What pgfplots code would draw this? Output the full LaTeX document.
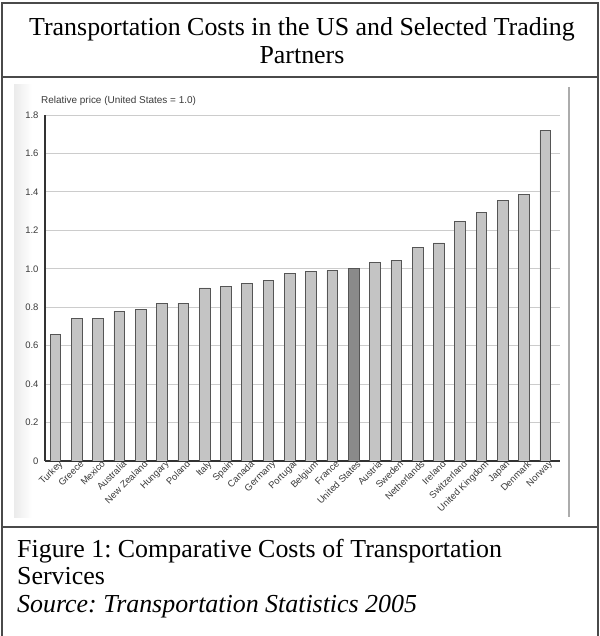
\documentclass[border=0pt]{standalone}
\usepackage{fontspec}
\setmainfont{Liberation Serif}
\newfontfamily\chartfont{Liberation Sans}
\usepackage{pgfplots}
\usepackage{pgfplotstable}
\pgfplotsset{compat=1.18}
\definecolor{barfill}{HTML}{C4C4C4}
\definecolor{usfill}{HTML}{8A8A8A}
\definecolor{baredge}{HTML}{555555}
\definecolor{framec}{HTML}{4A4A4A}
\definecolor{axisc}{HTML}{333333}
\definecolor{labc}{HTML}{3A3A3A}

\pgfplotstableread{
x val
0 0.66
1 0.74
2 0.74
3 0.78
4 0.79
5 0.82
6 0.82
7 0.90
8 0.91
9 0.925
10 0.94
11 0.975
12 0.985
13 0.99
15 1.035
16 1.045
17 1.11
18 1.135
19 1.245
20 1.295
21 1.355
22 1.385
23 1.72
}\others
\pgfplotstableread{
x val
14 1.00
}\usdata

\begin{document}
\frenchspacing
\begin{tikzpicture}[x=1bp,y=1bp]
\useasboundingbox (0,0) rectangle (600,636);
% scan background tint
\fill[left color=gray!16, right color=white] (14,118) rectangle (32,551);
% scan right edge line
\draw[gray!65, line width=1.5bp] (569,549) -- (569,119);
% frame
\draw[framec, line width=1.5bp] (2,0) -- (2,633) -- (598,633) -- (598,0);
\draw[framec, line width=1.5bp] (2,559) -- (598,559);
\draw[framec, line width=1.5bp] (2,109) -- (598,109);
% title
\node[anchor=base, inner sep=0, font=\fontsize{26}{30}\selectfont] at (302,600) {Transportation Costs in the US and Selected Trading};
\node[anchor=base, inner sep=0, font=\fontsize{26}{30}\selectfont] at (302,572) {Partners};
% caption
\node[anchor=base west, inner sep=0, font=\fontsize{26}{30}\selectfont] at (17,78) {Figure 1: Comparative Costs of Transportation};
\node[anchor=base west, inner sep=0, font=\fontsize{26}{30}\selectfont] at (17,51) {Services};
\node[anchor=base west, inner sep=0, font=\fontsize{26}{30}\selectfont\itshape] at (17,23) {Source: Transportation Statistics 2005};
% y label
\node[anchor=west, inner sep=0, text=labc, font=\chartfont\fontsize{10}{12}\selectfont] at (41,535) {Relative price (United States = 1.0)};
\begin{axis}[
  at={(45bp,175bp)}, anchor=south west,
  scale only axis, width=515bp, height=346bp,
  xmin=-0.49, xmax=23.69, ymin=0, ymax=1.8,
  enlarge x limits=false, enlarge y limits=false,
  ybar,
  axis x line*=bottom, axis y line*=left,
  x axis line style={axisc, line width=1.3bp},
  y axis line style={axisc, line width=2bp},
  major tick length=0pt,
  ymajorgrids,
  grid style={gray!40, line width=0.8bp},
  xtick={0,1,2,3,4,5,6,7,8,9,10,11,12,13,14,15,16,17,18,19,20,21,22,23},
  xticklabels={Turkey,Greece,Mexico,Australia,New Zealand,Hungary,Poland,Italy,Spain,Canada,Germany,Portugal,Belgium,France,United States,Austria,Sweden,Netherlands,Ireland,Switzerland,United Kingdom,Japan,Denmark,Norway},
  ytick={0,0.2,0.4,0.6,0.8,1,1.2,1.4,1.6,1.8},
  yticklabels={0,0.2,0.4,0.6,0.8,1.0,1.2,1.4,1.6,1.8},
  xticklabel style={rotate=45, anchor=north east, inner sep=1bp, text=labc, font=\chartfont\fontsize{9.5}{11}\selectfont, xshift=4bp},
  yticklabel style={text=labc, font=\chartfont\fontsize{9.5}{11}\selectfont, xshift=-3bp},
]
\addplot[ybar, bar shift=0pt, bar width=10.7bp, fill=barfill, draw=baredge, line width=0.6bp] table[x=x, y=val] {\others};
\addplot[ybar, bar shift=0pt, bar width=10.7bp, fill=usfill, draw=baredge, line width=0.6bp] table[x=x, y=val] {\usdata};
\end{axis}
\end{tikzpicture}
\end{document}
